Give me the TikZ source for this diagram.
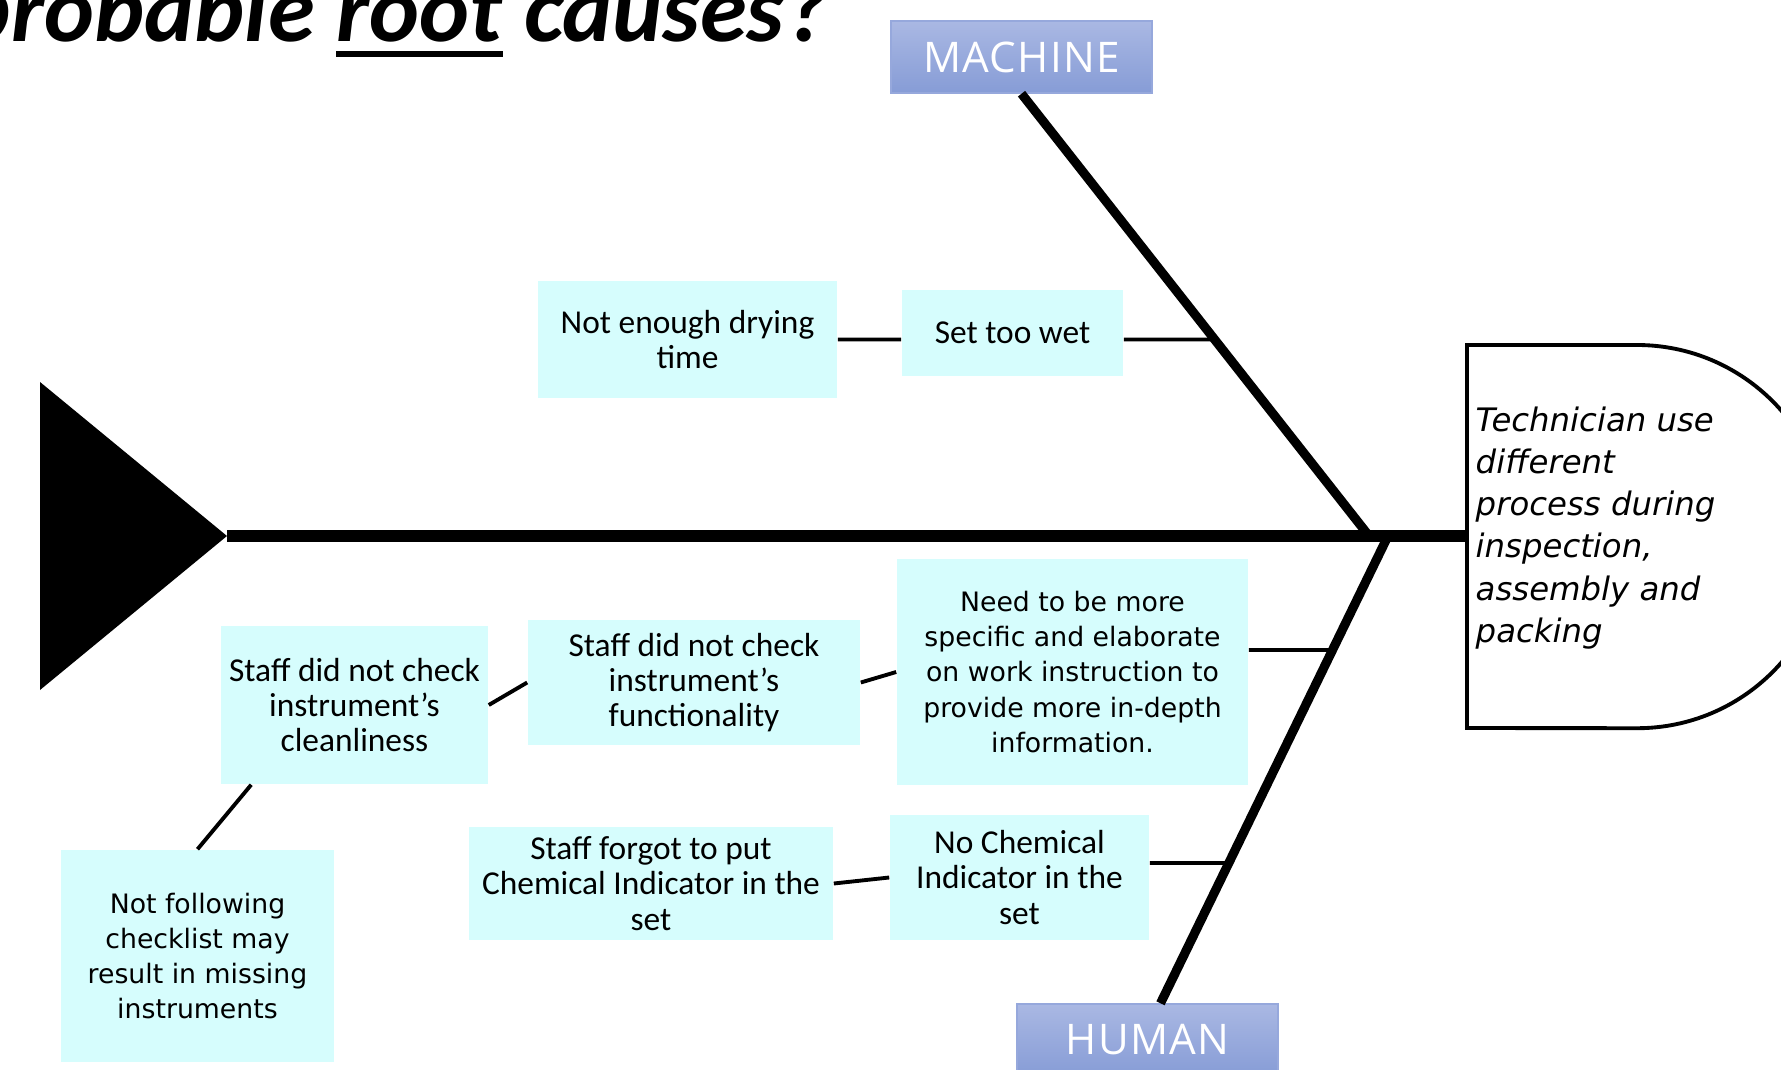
\documentclass[tikz,border=0pt]{standalone}
\usepackage{fontspec}
\setmainfont{Carlito}
\newfontfamily\verdfont{DejaVu Sans}
\newfontfamily\catfont[LetterSpace=3]{Open Sans}
\usepackage{xcolor}
\definecolor{causecyan}{RGB}{214,253,253}
\definecolor{cattop}{RGB}{170,184,227}
\definecolor{catbottom}{RGB}{134,156,214}
\definecolor{catedge}{RGB}{150,168,220}
\usepackage{tikz}
\usetikzlibrary{calc}
\newcommand{\boxfont}{\fontsize{9.5pt}{10pt}\selectfont}
\newcommand{\verdbox}{\verdfont\fontsize{7.6pt}{10pt}\selectfont}
\newcommand{\effectfont}{\verdfont\itshape\fontsize{9.2pt}{12pt}\selectfont}
\newcommand{\thickul}[1]{\setbox0\hbox{#1}\rlap{\rule[-0.16em]{\wd0}{0.07em}}\box0\relax}
\tikzset{
    common/.style={rectangle, inner sep=0pt, align=center},
    cause/.style={common, fill=causecyan, font=\boxfont},
    widecause/.style={cause, font=\verdbox},
    category/.style={common, draw=catedge, top color=cattop, bottom color=catbottom, text=white,
        font=\catfont\fontsize{12pt}{14pt}\selectfont, minimum width=2.61cm, minimum height=0.72cm},
    spine/.style={line width=3.3pt},
    bone/.style={line width=2.6pt},
    twig/.style={line width=1.1pt}
}

\begin{document}
\begin{tikzpicture}[x=0.01cm, y=-0.01cm]
    \useasboundingbox (0,0) rectangle (1781,1070);
    \clip (0,0) rectangle (1781,1070);

    \node[anchor=base east, inner sep=0pt, font=\bfseries\itshape\fontsize{27pt}{30pt}\selectfont] (title) at (829,42) {probable \thickul{root} causes?};

    \node[category] (machine) at (1021.5,57) {MACHINE};
    \node[category] (human) at (1147.5,1040) {HUMAN};

    \coordinate (tail) at (227,536);
    \coordinate (headin) at (1467,536);
    \coordinate (mjoin) at (1369,536);
    \coordinate (hjoin) at (1388,536);
    \coordinate (htip) at ([xshift=0.13cm]human.north);

    \fill (40,382) -- (tail) -- (40,690) -- cycle;
    \draw[line width=1.1pt] (1467,345) -- (1637,345) arc[start angle=90, end angle=-90, radius=1.915cm] -- (1467,728) -- cycle;
    \node[anchor=north west, inner sep=0pt, align=left, font=\effectfont] (effect) at (1475,406)
        {Technician use\\different\\process during\\inspection,\\assembly and\\packing};

    \draw[spine] (tail) -- (headin);
    \draw[bone] (machine.south) -- (mjoin);
    \draw[bone] (hjoin) -- (htip);

    \node[cause, minimum width=2.99cm, minimum height=1.17cm] (dry) at (687.5,339.5) {Not enough drying\\time};
    \node[cause, minimum width=2.21cm, minimum height=0.86cm] (wet) at (1012.5,333) {Set too wet};
    \node[widecause, minimum width=3.51cm, minimum height=2.26cm] (depth) at (1072.5,672)
        {Need to be more\\specific and elaborate\\on work instruction to\\provide more in-depth\\information.};
    \node[cause, minimum width=3.32cm, minimum height=1.25cm] (func) at (694,682.5) {Staff did not check\\instrument’s\\functionality};
    \node[cause, minimum width=2.67cm, minimum height=1.58cm] (clean) at (354.5,705) {Staff did not check\\instrument’s\\cleanliness};
    \node[widecause, minimum width=2.73cm, minimum height=2.12cm] (checklist) at (197.5,956)
        {Not following\\checklist may\\result in missing\\instruments};
    \node[cause, minimum width=3.64cm, minimum height=1.13cm] (forgot) at (651,883.5) {Staff forgot to put\\Chemical Indicator in the\\set};
    \node[cause, minimum width=2.59cm, minimum height=1.25cm] (chem) at (1019.5,877.5) {No Chemical\\Indicator in the\\set};

    \coordinate (wstubL) at (dry.east -| wet.west);
    \coordinate (wstubR) at (dry.east -| wet.east);
    \coordinate (dstubL) at ([yshift=0.22cm]depth.west);
    \coordinate (dstubR) at ([yshift=0.22cm]depth.east);
    \coordinate (cstubL) at ([yshift=0.145cm]chem.west);
    \coordinate (cstubR) at ([yshift=0.145cm]chem.east);

    \draw[twig]
        (wstubR) -- (intersection of machine.south--mjoin and wstubL--wstubR)
        (dstubR) -- (intersection of hjoin--htip and dstubL--dstubR)
        (cstubR) -- (intersection of hjoin--htip and cstubL--cstubR)
        (dry.east) -- (wstubL)
        (func.east) -- (depth.west)
        (clean.east) -- (func.west)
        (forgot.east) -- (chem.west)
        ($(clean.south west)+(31,0)$) -- (checklist.north);
\end{tikzpicture}
\end{document}
